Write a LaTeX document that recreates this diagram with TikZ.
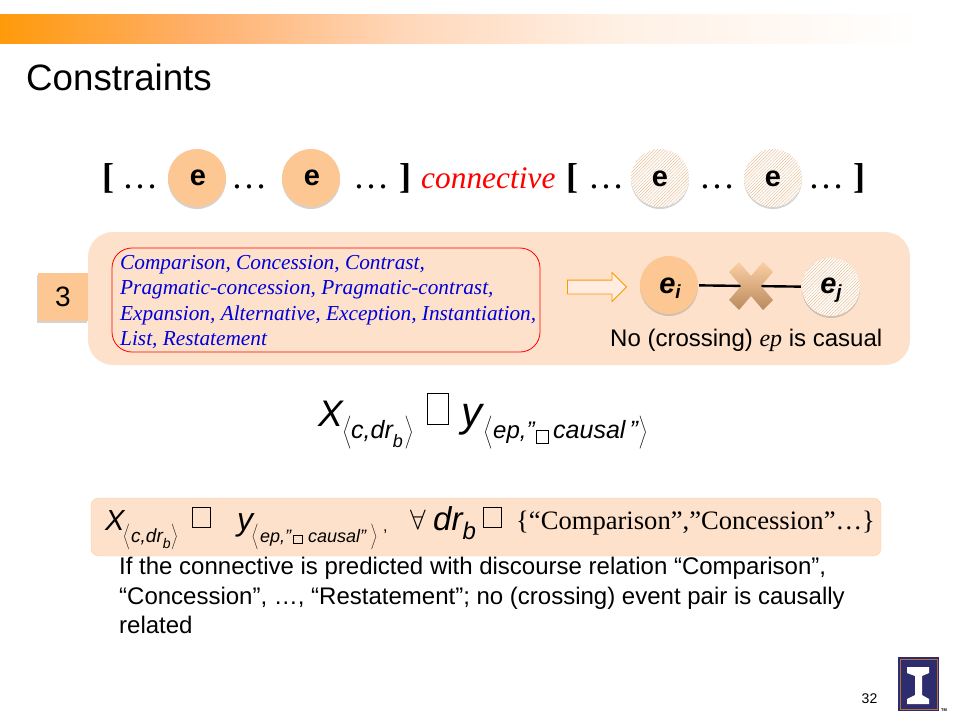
\documentclass[tikz,border=0pt]{standalone}
\usepackage{fontspec}
\setmainfont{Liberation Sans}
\newfontfamily\timesf{Liberation Serif}
\usetikzlibrary{positioning,shadows,patterns.meta,shapes.arrows}
\definecolor{panelc}{HTML}{FDE1CB}
\definecolor{eventc}{HTML}{FCC793}
\definecolor{hatchc}{HTML}{E6B88A}
\definecolor{navyc}{HTML}{2D2C6E}
\definecolor{logoc}{HTML}{B5703A}
\definecolor{bara}{HTML}{FF9A0A}
\definecolor{barb}{HTML}{FFAF69}
\definecolor{barc}{HTML}{FFD7B9}
\definecolor{bard}{HTML}{FFF0E4}
\pgfdeclarehorizontalshading{barshade}{100bp}{
  color(0bp)=(bara);
  color(25bp)=(bara);
  color(35bp)=(barb);
  color(46bp)=(barc);
  color(57bp)=(bard);
  color(73bp)=(white);
  color(100bp)=(white)}
\newcommand{\fs}[1]{\fontsize{#1}{#1}\selectfont}
\newcommand{\lbr}[1]{\scalebox{#1}{$\Bigg\langle$}}
\newcommand{\rbr}[1]{\scalebox{#1}{$\Bigg\rangle$}}
\begin{document}
\begin{tikzpicture}[x=1pt,y=-1pt,
    txt/.style={inner sep=0pt,anchor=base west},
    ser/.style={txt,font=\timesf\fs{36}},
    sbr/.style={txt,font=\timesf\bfseries\fs{36}},
    rel/.style={txt,text=blue!85!black,font=\timesf\itshape\fs{21.3}},
    ele/.style={circle,minimum size=58pt,inner sep=0pt,drop shadow={shadow xshift=0pt,shadow yshift=-2pt,opacity=.35}},
    evt/.style={ele,fill=eventc},
    evh/.style={ele,fill=white,postaction={pattern={Lines[angle=45,distance=2.2pt,line width=.4pt]},pattern color=hatchc}},
    lab/.style={font=\fs{29}\bfseries},
    tofu/.style={draw,inner sep=0pt,line width=.7pt},
    mth/.style={txt,font=\itshape},
    brk/.style={inner sep=0pt}]
  \useasboundingbox (0,0) rectangle (960,720);
  % top bar and title
  \shade[shading=barshade] (0,14) rectangle (960,43);
  \node[txt,font=\fs{36.7}] (title) at (26,90) {Constraints};

  % event row
  \node[sbr] (lb1) at (102,188) {[};
  \node[ser] (d1) at (122,188) {…};
  \node[evt] (e1) at (197,178) {};
  \node[ser] (d2) at (231,188) {…};
  \node[evt] (e2) at (311,178) {};
  \node[ser] (d3) at (353,188) {…};
  \node[sbr] (rb1) at (399,188) {]};
  \node[txt,text=red,font=\timesf\itshape\fs{31.4}] (conn) at (421,188) {connective};
  \node[sbr] (lb2) at (566,188) {[};
  \node[ser] (d4) at (588,188) {…};
  \node[evh] (e3) at (660,178) {};
  \node[ser] (d5) at (699,188) {…};
  \node[evh] (e4) at (773,178) {};
  \node[ser] (d6) at (808,188) {…};
  \node[sbr] (rb2) at (853,188) {]};
  \node[lab] (t1) at (198,178) {e};
  \node[lab] (t2) at (312,178) {e};
  \node[lab] (t3) at (660,179) {e};
  \node[lab] (t4) at (773,179) {e};

  % constraint panel
  \node[fill=eventc,minimum width=50pt,minimum height=48pt,inner sep=0pt,font=\fs{28},drop shadow={shadow xshift=-1.5pt,shadow yshift=-2pt,opacity=.35}] (num) at (63,297) {3};
  \node[fill=panelc,rounded corners=25pt,minimum width=822pt,minimum height=133pt,inner sep=0pt] (panel) at (499,298.5) {};
  \node[draw=red,rounded corners=20pt,line width=.8pt,minimum width=428pt,minimum height=104pt,inner sep=0pt] (rels) at (326,300) {};
  \node[rel] (r1) at (120,269) {Comparison, Concession, Contrast,};
  \node[rel] (r2) at (120,294.5) {Pragmatic-concession, Pragmatic-contrast,};
  \node[rel] (r3) at (120,320) {Expansion, Alternative, Exception, Instantiation,};
  \node[rel] (r4) at (120,345) {List, Restatement};
  \node[single arrow,draw=orange!80!yellow,fill=panelc!60!white,line width=.8pt,minimum height=59pt,single arrow head extend=7.5pt,inner xsep=0pt,inner ysep=6.5pt] (arr) at (593.5,287) {};
  \node[evt] (ei) at (669,285) {};
  \node[evh] (ej) at (831,287) {};
  \draw[line width=2.4pt,shorten <=1pt,shorten >=1pt] (ei) -- (ej);
  \shade[top color=panelc!30!eventc,bottom color=eventc!70!black!90!orange]
    (729,272) -- (739,262) -- (751,276) -- (763,262) -- (773,272) -- (761,286)
    -- (773,300) -- (763,310) -- (751,296) -- (739,310) -- (729,300) -- (741,286) -- cycle;
  \node[font=\fs{29}\bfseries\itshape] (ti) at (670,288) {e\raisebox{-5pt}{\fs{19}i}};
  \node[font=\fs{29}\bfseries\itshape] (tj) at (831,290) {e\raisebox{-5pt}{\fs{19}j}};
  \node[txt,font=\fs{24}] (nocross) at (610,346) {No (crossing) {\timesf\itshape ep} is casual};

  % middle formula
  \node[mth,font=\itshape\fs{37}] (fx) at (318,426) {X};
  \node[brk] (fl1) at (347,433) {\lbr{1.1}};
  \node[mth,font=\itshape\fs{25}] (fs1) at (351,438) {c,dr\raisebox{-9pt}{\fs{18}b}};
  \node[brk] (fr1) at (409,433) {\rbr{1.1}};
  \node[tofu,minimum width=21pt,minimum height=31pt] (fb1) at (437.5,408.5) {};
  \node[mth,font=\itshape\fs{42}] (fy) at (461,426) {y};
  \node[brk] (fl2) at (488,433) {\lbr{1.1}};
  \node[mth,font=\itshape\fs{24}] (fs2) at (493,438) {ep,"};
  \node[tofu,minimum width=12pt,minimum height=13pt] (fb2) at (542,436.5) {};
  \node[mth,font=\itshape\fs{25}] (fs3) at (553,438) {causal\,"};
  \node[brk] (fr2) at (643,433) {\rbr{1.1}};

  % bottom formula
  \node[fill=panelc,draw=eventc!70!panelc,rounded corners=8pt,minimum width=790pt,minimum height=58pt,inner sep=0pt] (form) at (486,527) {};
  \node[mth,font=\itshape\fs{29}] (gx) at (105,530) {X};
  \node[brk] (gl1) at (126.5,537) {\lbr{.85}};
  \node[mth,font=\itshape\fs{19}] (gs1) at (131,542) {c,dr\raisebox{-6pt}{\fs{14}b}};
  \node[brk] (gr1) at (174.5,537) {\rbr{.85}};
  \node[tofu,minimum width=18pt,minimum height=20pt] (gb1) at (201,517) {};
  \node[mth,font=\itshape\fs{32}] (gy) at (237,530) {y};
  \node[brk] (gl2) at (255,537) {\lbr{.85}};
  \node[mth,font=\itshape\fs{18}] (gs2) at (260,542) {ep,"};
  \node[tofu,minimum width=9pt,minimum height=8pt] (gb2) at (297.5,539) {};
  \node[mth,font=\itshape\fs{18}] (gs3) at (308,542) {causal"};
  \node[brk] (gr2) at (374,537) {\rbr{.85}};
  \node[txt,font=\fs{16}] (gc) at (383,531) {,};
  \node[brk] (gall) at (418,520) {\scalebox{2.8}{$\forall$}};
  \node[mth,font=\itshape\fs{33}] (gd) at (433,530) {dr\raisebox{-9pt}{\fs{24}b}};
  \node[tofu,minimum width=18pt,minimum height=20pt] (gb3) at (492,517) {};
  \node[txt,font=\timesf\fs{26.6}] (gset) at (516,529) {\{“Comparison”,”Concession”…\}};

  % explanation
  \node[txt,font=\fs{24}] (l1) at (119,574) {If the connective is predicted with discourse relation “Comparison”,};
  \node[txt,font=\fs{24}] (l2) at (119,604) {“Concession”, …, “Restatement”; no (crossing) event pair is causally};
  \node[txt,font=\fs{24}] (l3) at (119,633) {related};

  % footer
  \node[font=\fs{14}] (page) at (869.5,699) {32};
  \node[fill=navyc,minimum width=41pt,minimum height=54pt,inner sep=0pt] (logo) at (918.5,684) {};
  \node[draw=logoc,line width=.8pt,minimum width=37pt,minimum height=50pt,inner sep=0pt] (logoin) at (918.5,684) {};
  \fill[white] (907,667) -- (929,667) -- (929,673) -- (922,676) -- (922,695) -- (929,699) -- (929,704)
    -- (907,704) -- (907,699) -- (915,695) -- (915,676) -- (907,673) -- cycle;
  \node[font=\fs{4}\bfseries,inner sep=0pt] (tm) at (944,710) {TM};
\end{tikzpicture}
\end{document}
